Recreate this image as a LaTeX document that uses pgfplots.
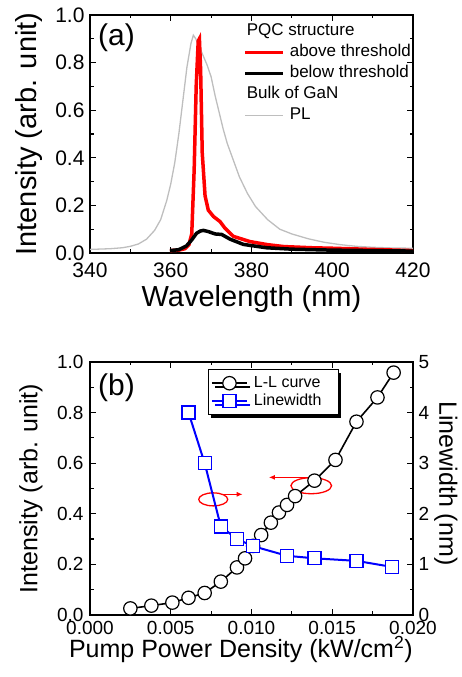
\documentclass[border=0pt]{standalone}
\usepackage{pgfplots}
\pgfplotsset{compat=1.18}
\usepackage{fontspec}
\setmainfont{Liberation Sans}
\usetikzlibrary{shadows,arrows.meta}

\definecolor{plgray}{RGB}{190,190,190}
\definecolor{myred}{RGB}{255,0,0}
\definecolor{myblue}{RGB}{0,0,255}

\pgfplotsset{
  frame/.style={
    scale only axis,
    axis line style={line width=1.6pt},
    every tick/.style={black, line width=1.2pt},
    major tick length=6pt,
    minor tick length=3.5pt,
    tick align=inside,
    /pgf/number format/assume math mode=true,
  }
}

\begin{document}
\begin{tikzpicture}
\useasboundingbox (0pt,0pt) rectangle (462pt,677pt);

% ---------- panel (a): spectra
\begin{axis}[frame,
  at={(90pt,424pt)}, anchor=south west,
  width=323pt, height=238pt,
  xmin=340, xmax=420, ymin=0, ymax=1,
  xtick={340,360,380,400,420}, minor x tick num=1,
  ytick={0,0.2,0.4,0.6,0.8,1}, minor y tick num=1,
  tick label style={font=\fontsize{21}{21}\selectfont},
  yticklabel style={xshift=-2pt, /pgf/number format/fixed, /pgf/number format/fixed zerofill, /pgf/number format/precision=1},
  xticklabel style={yshift=-6pt},
  xlabel={Wavelength (nm)},
  ylabel={Intensity (arb. unit)},
  every axis x label/.style={at={(axis description cs:0.5,-0.195)}, anchor=center, font=\fontsize{29}{29}\selectfont},
  every axis y label/.style={at={(axis description cs:-0.19,0.5)}, anchor=center, rotate=90, font=\fontsize{29}{29}\selectfont},
  legend image code/.code={\draw[#1] (0pt,0pt) -- (38pt,0pt);},
  legend cell align=left,
  legend style={draw=none, fill=none, at={(0.474,0.966)}, anchor=north west,
    inner sep=0pt, row sep=5pt, column sep=5pt,
    nodes={inner sep=0pt, text height=12pt, text depth=4pt, font=\fontsize{17}{17}\selectfont}},
]
\addlegendimage{empty legend}\addlegendentry{\hspace*{-43pt}PQC structure}
\addlegendimage{myred, line width=3.5pt}\addlegendentry{above threshold}
\addlegendimage{black, line width=3.5pt}\addlegendentry{below threshold}
\addlegendimage{empty legend}\addlegendentry{\hspace*{-43pt}Bulk of GaN}
\addlegendimage{plgray, line width=1.3pt}\addlegendentry{PL}

% bulk GaN PL
\addplot[plgray, line width=1.3pt, forget plot] coordinates {
(340,0.015) (345,0.018) (348,0.022) (350,0.028) (352,0.038) (354,0.058)
(356,0.095) (357.5,0.14) (359,0.22) (360,0.29) (361,0.38) (362,0.50)
(363,0.64) (364,0.78) (365,0.88) (365.6,0.915) (366.2,0.90) (367,0.87)
(368,0.83) (369,0.79) (370,0.74) (371,0.66) (372,0.59) (373,0.52)
(374,0.46) (375.5,0.39) (377,0.32) (379,0.25) (381,0.195) (384,0.14)
(387,0.10) (390,0.08) (394,0.06) (398,0.045) (402,0.035) (406,0.028)
(410,0.024) (415,0.021) (420,0.02)
};
% above threshold
\addplot[myred, line width=3.5pt, forget plot] coordinates {
(359.8,0.01) (362,0.012) (363.5,0.018) (364.5,0.035) (365.2,0.08)
(365.8,0.35) (366.3,0.70) (366.8,0.89) (367.1,0.90) (367.4,0.77)
(367.8,0.42) (368.5,0.24) (369.3,0.18) (370.6,0.153) (372.2,0.132)
(373.4,0.105) (375.5,0.07) (379.6,0.048) (384,0.035) (388,0.027)
(395,0.022) (400,0.02) (410,0.015) (420,0.01)
};
% below threshold
\addplot[black, line width=3.5pt, forget plot] coordinates {
(359.8,0.01) (362,0.014) (363.9,0.03) (365.2,0.055) (366.4,0.083)
(367.3,0.092) (368.1,0.095) (369.3,0.09) (371,0.08) (372.6,0.078)
(374.7,0.058) (378,0.036) (383.7,0.022) (390,0.016) (400,0.012)
(410,0.01) (420,0.008)
};
\end{axis}
\node[font=\fontsize{30}{30}\selectfont] at (116.5pt,639pt) {(a)};

% ---------- panel (b): L-L curve (left axis)
\begin{axis}[frame,
  at={(90pt,62pt)}, anchor=south west,
  width=323pt, height=253pt,
  xmin=0, xmax=0.02, ymin=0, ymax=1,
  xtick={0,0.005,0.01,0.015,0.02}, minor x tick num=1,
  ytick={0,0.2,0.4,0.6,0.8,1}, minor y tick num=1,
  ytick pos=left,
  scaled x ticks=false,
  tick label style={font=\fontsize{19}{19}\selectfont},
  xticklabel style={yshift=-3pt, /pgf/number format/fixed, /pgf/number format/fixed zerofill, /pgf/number format/precision=3},
  yticklabel style={xshift=-3pt, /pgf/number format/fixed, /pgf/number format/fixed zerofill, /pgf/number format/precision=1},
  xlabel={Pump Power Density (kW/cm\textsuperscript{2})},
  ylabel={Intensity (arb. unit)},
  every axis x label/.style={at={(axis description cs:0.467,-0.138)}, anchor=center, font=\fontsize{25}{25}\selectfont},
  every axis y label/.style={at={(axis description cs:-0.183,0.5)}, anchor=center, rotate=90, font=\fontsize{25}{25}\selectfont},
  legend image code/.code={\draw[mark repeat=2, mark phase=2, #1] plot coordinates {(0pt,0pt) (17.5pt,0pt) (35pt,0pt)};},
  legend cell align=left,
  legend style={at={(0.364,0.971)}, anchor=north west,
    draw=black, line width=0.8pt, fill=white,
    drop shadow={fill=black, opacity=1, shadow xshift=3.5pt, shadow yshift=-3.5pt},
    inner xsep=3pt, inner ysep=5pt, row sep=1pt, column sep=5pt,
    nodes={inner sep=1pt, text height=11.5pt, text depth=3.5pt, font=\fontsize{16}{16}\selectfont}},
]
\addplot[black, line width=1.6pt, mark=*, mark size=6.7pt,
  mark options={fill=white, draw=black, line width=1.2pt}] coordinates {
(0.0025,0.026) (0.0038,0.037) (0.0051,0.049) (0.0061,0.068) (0.0071,0.087)
(0.0081,0.132) (0.0091,0.188) (0.0096,0.224) (0.0101,0.273) (0.0106,0.316)
(0.0112,0.365) (0.0117,0.405) (0.0122,0.435) (0.0127,0.470) (0.0139,0.531)
(0.0152,0.613) (0.0165,0.764) (0.0178,0.860) (0.0188,0.958)
};
\addlegendentry{\makebox[80pt][l]{L-L curve}}
\addlegendimage{myblue, line width=2pt, mark=square*, mark size=6.5pt,
  mark options={fill=white, draw=myblue, line width=1.2pt}}
\addlegendentry{\makebox[80pt][l]{Linewidth}}
% guide marks
\draw[myred, line width=1.3pt] (axis cs:0.00763,0.457) ellipse [x radius=14.5pt, y radius=6.5pt];
\draw[myred, line width=1pt, -{Latex[length=6pt,width=5pt]}] (axis cs:0.00825,0.477) -- (axis cs:0.00945,0.477);
\draw[myred, line width=1.3pt] (axis cs:0.0137,0.511) ellipse [x radius=20.3pt, y radius=8pt];
\draw[myred, line width=1pt, -{Latex[length=6pt,width=5pt]}] (axis cs:0.01393,0.544) -- (axis cs:0.01108,0.544);
\end{axis}

% ---------- panel (b): linewidth (right axis)
\begin{axis}[frame,
  at={(90pt,62pt)}, anchor=south west,
  width=323pt, height=253pt,
  xmin=0, xmax=0.02, ymin=0, ymax=5,
  hide x axis,
  ytick={0,1,2,3,4,5}, minor y tick num=1,
  ytick pos=right, yticklabel pos=right,
  tick label style={font=\fontsize{19}{19}\selectfont},
  yticklabel style={xshift=2pt},
  ylabel={Linewidth (nm)},
  every axis y label/.style={at={(axis description cs:1.102,0.52)}, anchor=center, rotate=-90, font=\fontsize{25}{25}\selectfont},
]
\addplot[myblue, line width=2pt, mark=square*, mark size=6.5pt,
  mark options={fill=white, draw=myblue, line width=1.2pt}] coordinates {
(0.0061,4.0) (0.0071,3.0) (0.0081,1.75) (0.0091,1.50) (0.0101,1.36)
(0.0122,1.17) (0.0139,1.12) (0.0165,1.07) (0.0187,0.95)
};
\end{axis}
\node[font=\fontsize{30}{30}\selectfont] at (116.5pt,289pt) {(b)};
\end{tikzpicture}
\end{document}
